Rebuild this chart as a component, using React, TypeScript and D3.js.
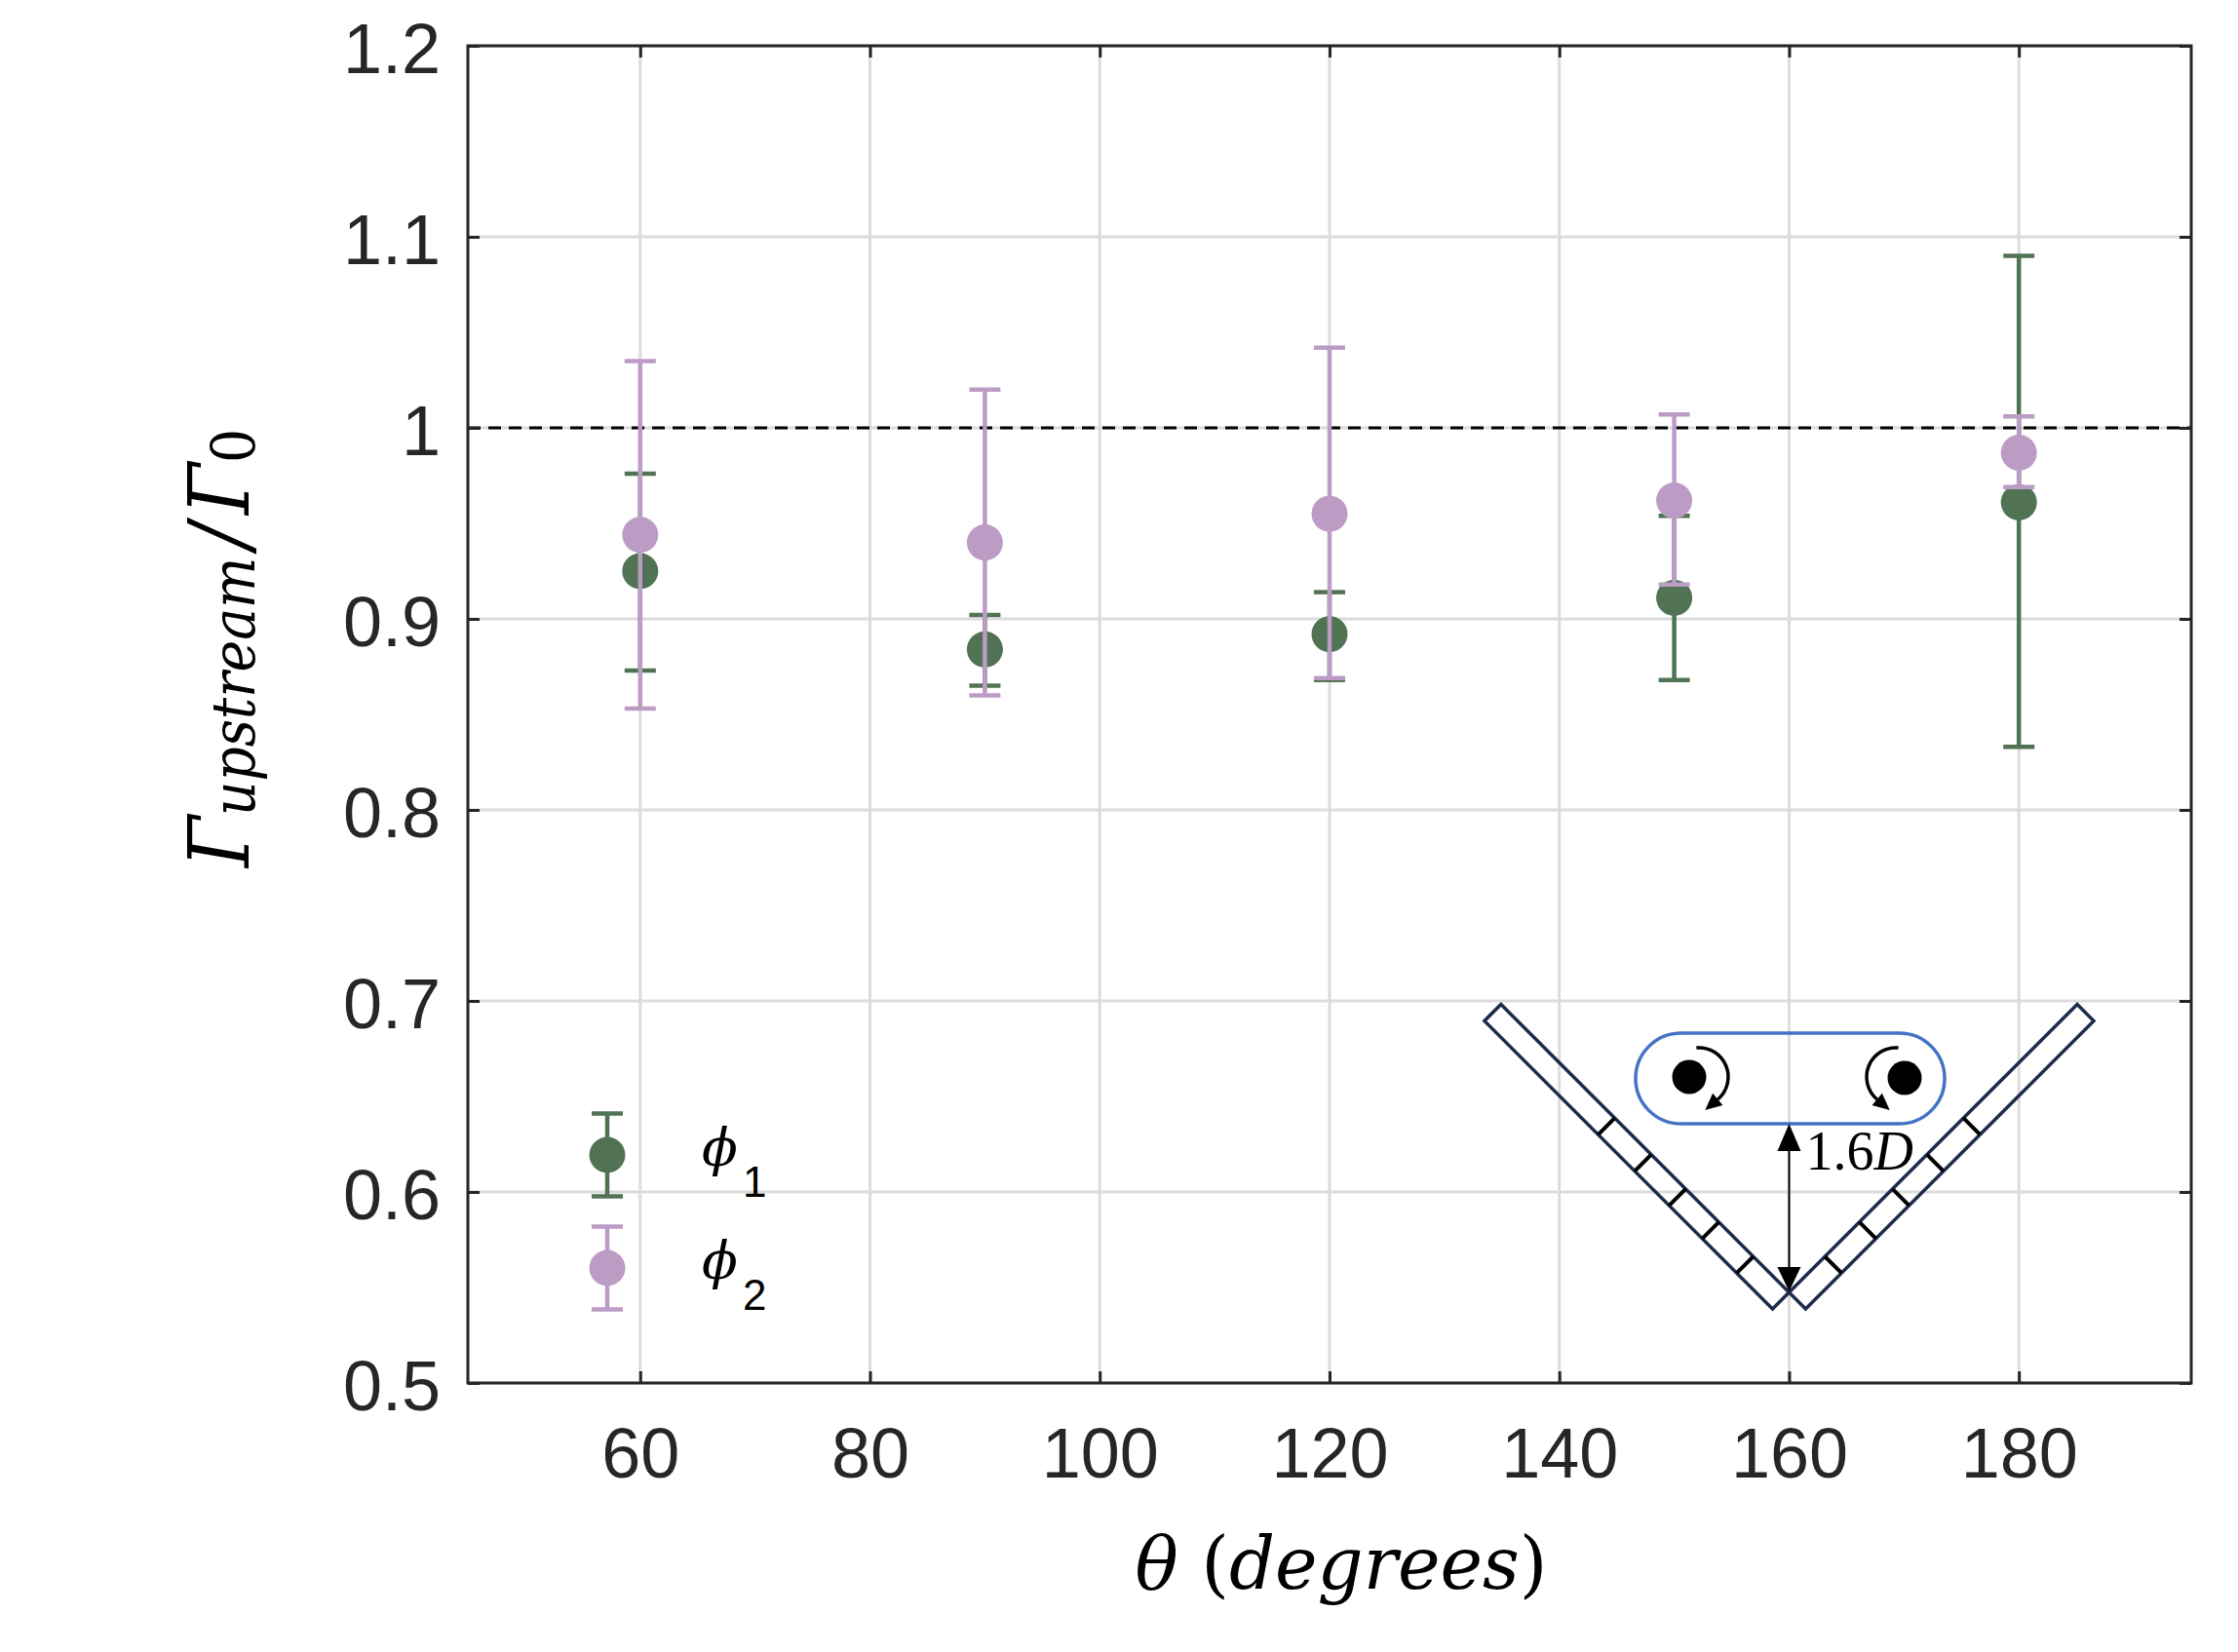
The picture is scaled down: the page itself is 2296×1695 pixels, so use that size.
import * as d3 from 'd3'
import { useEffect, useRef } from 'react'

const theta = [60, 90, 120, 150, 180]
const phi1Mean = [0.925, 0.884, 0.892, 0.911, 0.961]
const phi1Lo = [0.873, 0.865, 0.868, 0.868, 0.833]
const phi1Hi = [0.976, 0.902, 0.914, 0.954, 1.090]
const phi2Mean = [0.944, 0.940, 0.955, 0.962, 0.987]
const phi2Lo = [0.853, 0.860, 0.869, 0.918, 0.969]
const phi2Hi = [1.035, 1.020, 1.042, 1.007, 1.006]

const xTicks = [60, 80, 100, 120, 140, 160, 180]
const yTicks = [0.5, 0.6, 0.7, 0.8, 0.9, 1.0, 1.1, 1.2]
const yTickLabels = ['0.5', '0.6', '0.7', '0.8', '0.9', '1', '1.1', '1.2']
const seriesNames = ['1', '2']
const seriesColors = ['#517354', '#bc9cc5']

const hatchPos = [52, 102, 150, 200, 253]

const W = 2296
const H = 1695
const axisColor = '#262626'

function drawChart(ref: any) {
    const svg = d3.select(ref.current)
    svg.selectAll('*').remove()

    const left = 480, right = 2248, top = 47, bottom = 1419

    const xScale = d3.scaleLinear().domain([45, 195]).range([left, right])
    const yScale = d3.scaleLinear().domain([0.5, 1.2]).range([bottom, top])

    svg.append('rect').attr('width', W).attr('height', H).attr('fill', '#fff')

    // grid
    const grid = svg.append('g')
    grid.selectAll('.vg').data(xTicks).join('line')
        .attr('x1', d => xScale(d)).attr('x2', d => xScale(d))
        .attr('y1', top).attr('y2', bottom)
        .attr('stroke', '#dcdcdc').attr('stroke-width', 3)
    grid.selectAll('.hg').data(yTicks).join('line')
        .attr('x1', left).attr('x2', right)
        .attr('y1', d => yScale(d)).attr('y2', d => yScale(d))
        .attr('stroke', '#dcdcdc').attr('stroke-width', 3)

    // reference line at 1
    svg.append('line')
        .attr('x1', left).attr('x2', right)
        .attr('y1', yScale(1)).attr('y2', yScale(1))
        .attr('stroke', '#000').attr('stroke-width', 3)
        .attr('stroke-dasharray', '13 8')

    // inset sketch
    const inset = svg.append('g')
    const tip = { x: xScale(160), y: 1326 }
    const plateLen = 418, plateW = 24
    const s2 = Math.SQRT1_2
    const plates = [
        { u: [-s2, -s2], n: [-s2, s2] },
        { u: [s2, -s2], n: [s2, s2] },
    ]
    plates.forEach(p => {
        const a = [tip.x, tip.y]
        const b = [tip.x + plateLen * p.u[0], tip.y + plateLen * p.u[1]]
        const c = [b[0] + plateW * p.n[0], b[1] + plateW * p.n[1]]
        const d = [tip.x + plateW * p.n[0], tip.y + plateW * p.n[1]]
        inset.append('polygon')
            .attr('points', [a, b, c, d].map(q => q.join(',')).join(' '))
            .attr('fill', 'none').attr('stroke', '#1d2c4b')
            .attr('stroke-width', 3.5).attr('stroke-linejoin', 'miter')
        inset.selectAll(null).data(hatchPos).join('line')
            .attr('x1', s => tip.x + s * p.u[0])
            .attr('y1', s => tip.y + s * p.u[1])
            .attr('x2', s => tip.x + s * p.u[0] + plateW * p.n[0])
            .attr('y2', s => tip.y + s * p.u[1] + plateW * p.n[1])
            .attr('stroke', '#000').attr('stroke-width', 4)
    })

    inset.append('rect')
        .attr('x', 1678).attr('y', 1060).attr('width', 317).attr('height', 93)
        .attr('rx', 46.5).attr('ry', 46.5)
        .attr('fill', 'none').attr('stroke', '#4472c4').attr('stroke-width', 3.5)

    const cyl = [{ x: 1733, y: 1105 }, { x: 1954, y: 1106 }]
    inset.selectAll(null).data(cyl).join('circle')
        .attr('cx', d => d.x).attr('cy', d => d.y).attr('r', 17.5).attr('fill', '#000')

    const rad = Math.PI / 180
    const arcs = [
        { cx: 1743, cy: 1105, a0: -95, a1: 50, ccw: false },
        { cx: 1945, cy: 1105, a0: -85, a1: 130, ccw: true },
    ]
    arcs.forEach(a => {
        const r = 30
        const p = d3.path()
        p.arc(a.cx, a.cy, r, a.a0 * rad, a.a1 * rad, a.ccw)
        inset.append('path').attr('d', p.toString())
            .attr('fill', 'none').attr('stroke', '#000').attr('stroke-width', 3.5)
        const ex = a.cx + r * Math.cos(a.a1 * rad)
        const ey = a.cy + r * Math.sin(a.a1 * rad)
        const sgn = a.ccw ? -1 : 1
        const tx = -Math.sin(a.a1 * rad) * sgn
        const ty = Math.cos(a.a1 * rad) * sgn
        const len = 17, hw = 8
        inset.append('polygon')
            .attr('points', [
                [ex + tx * len, ey + ty * len],
                [ex - ty * hw, ey + tx * hw],
                [ex + ty * hw, ey - tx * hw],
            ].map(q => q.join(',')).join(' '))
            .attr('fill', '#000')
    })

    // 1.6D gap arrow
    inset.append('line')
        .attr('x1', tip.x).attr('x2', tip.x).attr('y1', 1170).attr('y2', 1310)
        .attr('stroke', '#000').attr('stroke-width', 2)
    inset.append('polygon')
        .attr('points', `${tip.x},1153 ${tip.x - 12},1181 ${tip.x + 12},1181`).attr('fill', '#000')
    inset.append('polygon')
        .attr('points', `${tip.x},1325 ${tip.x - 12},1300 ${tip.x + 12},1300`).attr('fill', '#000')
    const lbl = inset.append('text')
        .attr('x', tip.x + 17).attr('y', 1200)
        .style('font-family', '"Liberation Serif", "Times New Roman", serif')
        .style('font-size', '56px').attr('fill', '#000')
    lbl.append('tspan').text('1.6')
    lbl.append('tspan').style('font-style', 'italic').text('D')

    // error bars + markers
    const capW = 16
    const drawSeries = (mean: number[], lo: number[], hi: number[], color: string) => {
        const g = svg.append('g')
        const pts = theta.map((t, i) => ({ t, m: mean[i], lo: lo[i], hi: hi[i] }))
        g.selectAll('.bar').data(pts).join('line')
            .attr('x1', d => xScale(d.t)).attr('x2', d => xScale(d.t))
            .attr('y1', d => yScale(d.lo)).attr('y2', d => yScale(d.hi))
            .attr('stroke', color).attr('stroke-width', 4.5)
        g.selectAll('.capHi').data(pts).join('line')
            .attr('x1', d => xScale(d.t) - capW).attr('x2', d => xScale(d.t) + capW)
            .attr('y1', d => yScale(d.hi)).attr('y2', d => yScale(d.hi))
            .attr('stroke', color).attr('stroke-width', 4.5)
        g.selectAll('.capLo').data(pts).join('line')
            .attr('x1', d => xScale(d.t) - capW).attr('x2', d => xScale(d.t) + capW)
            .attr('y1', d => yScale(d.lo)).attr('y2', d => yScale(d.lo))
            .attr('stroke', color).attr('stroke-width', 4.5)
        g.selectAll('circle').data(pts).join('circle')
            .attr('cx', d => xScale(d.t)).attr('cy', d => yScale(d.m))
            .attr('r', 18.5).attr('fill', color)
    }
    drawSeries(phi1Mean, phi1Lo, phi1Hi, seriesColors[0])
    drawSeries(phi2Mean, phi2Lo, phi2Hi, seriesColors[1])

    // axes box + inward ticks
    svg.append('rect')
        .attr('x', left).attr('y', top).attr('width', right - left).attr('height', bottom - top)
        .attr('fill', 'none').attr('stroke', axisColor).attr('stroke-width', 3)

    const tickLen = 12
    const xAxis = d3.axisBottom(xScale).tickValues(xTicks).tickSizeInner(-tickLen).tickSizeOuter(0)
        .tickFormat(d => String(d))
    const gx = svg.append('g').attr('transform', `translate(0,${bottom})`).call(xAxis)
    gx.select('.domain').remove()
    gx.selectAll('line').attr('stroke', axisColor).attr('stroke-width', 3)
    gx.selectAll('text')
        .attr('y', 97).attr('dy', null)
        .attr('fill', axisColor)
        .style('font-family', '"Liberation Sans", Arial, sans-serif')
        .style('font-size', '72px')

    const gxt = svg.append('g').attr('transform', `translate(0,${top})`)
        .call(d3.axisTop(xScale).tickValues(xTicks).tickSizeInner(-tickLen).tickSizeOuter(0).tickFormat(() => ''))
    gxt.select('.domain').remove()
    gxt.selectAll('line').attr('stroke', axisColor).attr('stroke-width', 3)

    const yAxis = d3.axisLeft(yScale).tickValues(yTicks).tickSizeInner(-tickLen).tickSizeOuter(0)
        .tickFormat((d, i) => yTickLabels[i])
    const gy = svg.append('g').attr('transform', `translate(${left},0)`).call(yAxis)
    gy.select('.domain').remove()
    gy.selectAll('line').attr('stroke', axisColor).attr('stroke-width', 3)
    gy.selectAll('text')
        .attr('x', -28).attr('dy', null).attr('y', 27)
        .attr('fill', axisColor)
        .style('font-family', '"Liberation Sans", Arial, sans-serif')
        .style('font-size', '72px')

    const gyr = svg.append('g').attr('transform', `translate(${right},0)`)
        .call(d3.axisRight(yScale).tickValues(yTicks).tickSizeInner(-tickLen).tickSizeOuter(0).tickFormat(() => ''))
    gyr.select('.domain').remove()
    gyr.selectAll('line').attr('stroke', axisColor).attr('stroke-width', 3)

    // legend
    const leg = svg.append('g')
    seriesNames.forEach((name, i) => {
        const cx = 623, cy = 1185 + i * 116
        const color = seriesColors[i]
        leg.append('line').attr('x1', cx).attr('x2', cx).attr('y1', cy - 42.5).attr('y2', cy + 42.5)
            .attr('stroke', color).attr('stroke-width', 4.5)
        leg.selectAll(null).data([-42.5, 42.5]).join('line')
            .attr('x1', cx - capW).attr('x2', cx + capW)
            .attr('y1', d => cy + d).attr('y2', d => cy + d)
            .attr('stroke', color).attr('stroke-width', 4.5)
        leg.append('circle').attr('cx', cx).attr('cy', cy).attr('r', 18.5).attr('fill', color)
        leg.append('text')
            .attr('x', 720).attr('y', cy + 11)
            .style('font-family', '"DejaVu Serif", serif').style('font-style', 'italic')
            .style('font-size', '54px').attr('fill', '#000')
            .text('\u03D5')
        leg.append('text')
            .attr('x', 762).attr('y', cy + 43)
            .style('font-family', '"Liberation Sans", Arial, sans-serif')
            .style('font-size', '44px').attr('fill', '#000')
            .text(name)
    })

    // axis titles
    const xl = svg.append('text')
        .attr('x', 1376).attr('y', 1630).attr('text-anchor', 'middle')
        .attr('textLength', 423).attr('lengthAdjust', 'spacingAndGlyphs')
        .style('font-family', '"DejaVu Serif", serif').style('font-size', '74px')
        .attr('fill', '#000')
    xl.append('tspan').style('font-style', 'italic').text('\u03B8 ')
    xl.append('tspan').text('(')
    xl.append('tspan').style('font-style', 'italic').text('degrees')
    xl.append('tspan').text(')')

    const yl = svg.append('text')
        .attr('transform', 'translate(255,665) rotate(-90)')
        .attr('text-anchor', 'middle')
        .attr('textLength', 450).attr('lengthAdjust', 'spacingAndGlyphs')
        .style('font-family', '"DejaVu Serif", serif').style('font-style', 'italic')
        .attr('fill', '#000')
    yl.append('tspan').style('font-size', '86px').text('\u0393')
    yl.append('tspan').style('font-size', '62px').attr('dy', 6).text('upstream')
    yl.append('tspan').style('font-size', '86px').attr('dy', -6).attr('dx', 10).text('/')
    yl.append('tspan').style('font-size', '86px').attr('dx', 10).text('\u0393')
    yl.append('tspan').style('font-size', '62px').style('font-style', 'normal').attr('dy', 6).text('0')
}

export default function App() {
    const svgRef = useRef(null) as any

    useEffect(() => {
        drawChart(svgRef)
    }, [])

    return (
        <div style={{ position: 'absolute', left: 0, top: 0 }}>
            <svg ref={svgRef} width={W} height={H} style={{ display: 'block' }} />
        </div>
    )
}
